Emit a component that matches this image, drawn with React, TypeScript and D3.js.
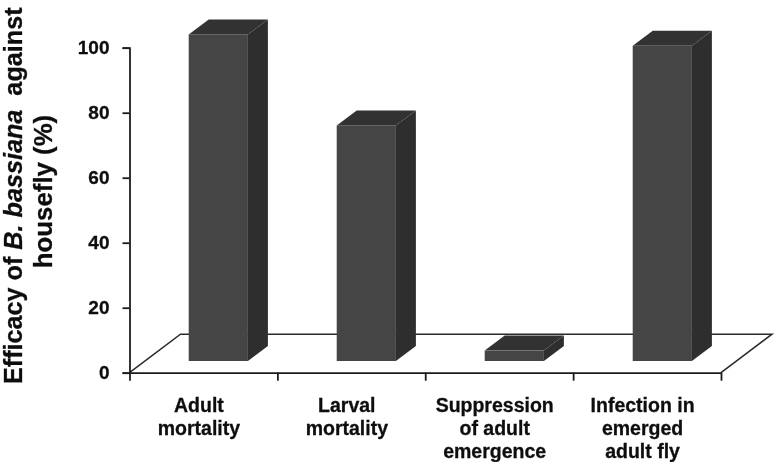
import { useRef, useEffect } from 'react';
import * as d3 from 'd3';

const categories = ['Adult mortality', 'Larval mortality', 'Suppression of adult emergence', 'Infection in emerged adult fly'];
const categoryLines = [
  ['Adult', 'mortality'],
  ['Larval', 'mortality'],
  ['Suppression', 'of adult', 'emergence'],
  ['Infection in', 'emerged', 'adult fly'],
];
const efficacy = [100.5, 72.5, 3.2, 97];
const yTicks = [0, 20, 40, 60, 80, 100];
const xTicks = [0, 1, 2, 3, 4];

const FONT = '"Liberation Sans", Arial, sans-serif';

export default function App() {
  const svgRef = useRef<SVGSVGElement>(null);

  useEffect(() => {
    const width = 774;
    const height = 464;
    const left = 129.5;
    const right = 721;
    const bottom = 372.7;
    const top = 47.7;
    const depthX = 51; // floor depth
    const depthY = 38.5;
    const barDx = 20; // bar depth
    const barDy = 15;
    const floorLift = 11.7;

    const svg = d3.select(svgRef.current)
      .attr('width', width)
      .attr('height', height);
    svg.selectAll('*').remove();

    // the reference is a slightly soft scan
    svg.append('filter')
      .attr('id', 'soft')
      .attr('filterUnits', 'userSpaceOnUse')
      .attr('x', 0).attr('y', 0)
      .attr('width', width).attr('height', height)
      .append('feGaussianBlur')
      .attr('stdDeviation', 0.45);
    const root = svg.append('g').attr('filter', 'url(#soft)');

    const yScale = d3.scaleLinear().domain([0, 100]).range([bottom, top]);
    const xTickScale = d3.scaleLinear().domain([0, 4]).range([left, right]);
    // outer padding leaves room for the 3d shift of the bars
    const xScale = d3.scaleBand()
      .domain(categories)
      .range([left, left + 148 * 4.2])
      .paddingInner(0.6)
      .paddingOuter(0.4)
      .align(0.5);

    // floor of the 3d plot
    root.append('path')
      .attr('d', `M${left},${bottom}L${left + depthX},${bottom - depthY}H${right + depthX}L${right},${bottom}`)
      .attr('fill', 'none')
      .attr('stroke', '#2b2b2b')
      .attr('stroke-width', 1.5);

    const bars = root.selectAll('g.bar')
      .data(categories)
      .enter()
      .append('g')
      .attr('class', 'bar');

    const bw = xScale.bandwidth();
    const barBase = bottom - floorLift;
    const barTop = (i: number) => yScale(efficacy[i]) - floorLift;

    // top face
    bars.append('path')
      .attr('fill', '#333333')
      .attr('d', (d, i) => {
        const x = xScale(d)!;
        return `M${x},${barTop(i)}l${barDx},${-barDy}h${bw}l${-barDx},${barDy}Z`;
      });
    // side face
    bars.append('path')
      .attr('fill', '#2e2e2e')
      .attr('d', (d, i) => {
        const x = xScale(d)! + bw;
        return `M${x},${barTop(i)}l${barDx},${-barDy}V${barBase - barDy}l${-barDx},${barDy}Z`;
      });
    // front face
    bars.append('rect')
      .attr('fill', '#454545')
      .attr('x', d => xScale(d)!)
      .attr('y', (d, i) => barTop(i))
      .attr('width', bw)
      .attr('height', (d, i) => barBase - barTop(i));

    // axes
    const yAxis = root.append('g')
      .attr('transform', `translate(${left}, 0)`)
      .call(d3.axisLeft(yScale).tickValues(yTicks).tickSize(7).tickPadding(13));
    const xAxis = root.append('g')
      .attr('transform', `translate(0, ${bottom})`)
      .call(d3.axisBottom(xTickScale).tickValues(xTicks).tickSize(8).tickSizeOuter(0).tickFormat(() => ''));

    [yAxis, xAxis].forEach(a => {
      a.selectAll('path, line').attr('stroke', '#1c1c1c').attr('stroke-width', 1.8);
    });
    yAxis.selectAll('text')
      .attr('font-family', FONT)
      .attr('font-weight', 'bold')
      .attr('font-size', 19)
      .attr('fill', '#111')
      .attr('stroke', '#111')
      .attr('stroke-width', 0.3);

    // category labels
    const labels = root.selectAll('text.cat')
      .data(categories)
      .enter()
      .append('text')
      .attr('class', 'cat')
      .attr('font-family', FONT)
      .attr('font-weight', 'bold')
      .attr('font-size', 19.5)
      .attr('fill', '#111')
      .attr('stroke', '#111')
      .attr('stroke-width', 0.3)
      .attr('text-anchor', 'middle');
    labels.each(function (d, i) {
      d3.select(this).selectAll('tspan')
        .data(categoryLines[i])
        .enter()
        .append('tspan')
        .attr('x', xTickScale(i + 0.5) - 4.5)
        .attr('y', (_, j) => 411.5 + j * 23)
        .text(t => t);
    });

    // y title
    const title = root.append('text')
      .attr('transform', 'translate(21.5, 384) rotate(-90)')
      .attr('font-family', FONT)
      .attr('font-weight', 'bold')
      .attr('font-size', 25.2)
      .attr('fill', '#111')
      .attr('stroke', '#111')
      .attr('stroke-width', 0.3);
    title.append('tspan').text('Efficacy of ');
    title.append('tspan').attr('font-style', 'italic').text('B. bassiana');
    title.append('tspan').text('\u00a0 against');
    root.append('text')
      .attr('transform', 'translate(52, 191.5) rotate(-90)')
      .attr('text-anchor', 'middle')
      .attr('font-family', FONT)
      .attr('font-weight', 'bold')
      .attr('font-size', 25.8)
      .attr('fill', '#111')
      .attr('stroke', '#111')
      .attr('stroke-width', 0.3)
      .text('housefly (%)');
  }, []);

  return <svg ref={svgRef} style={{ position: 'absolute', left: 0, top: 0 }} />;
}
